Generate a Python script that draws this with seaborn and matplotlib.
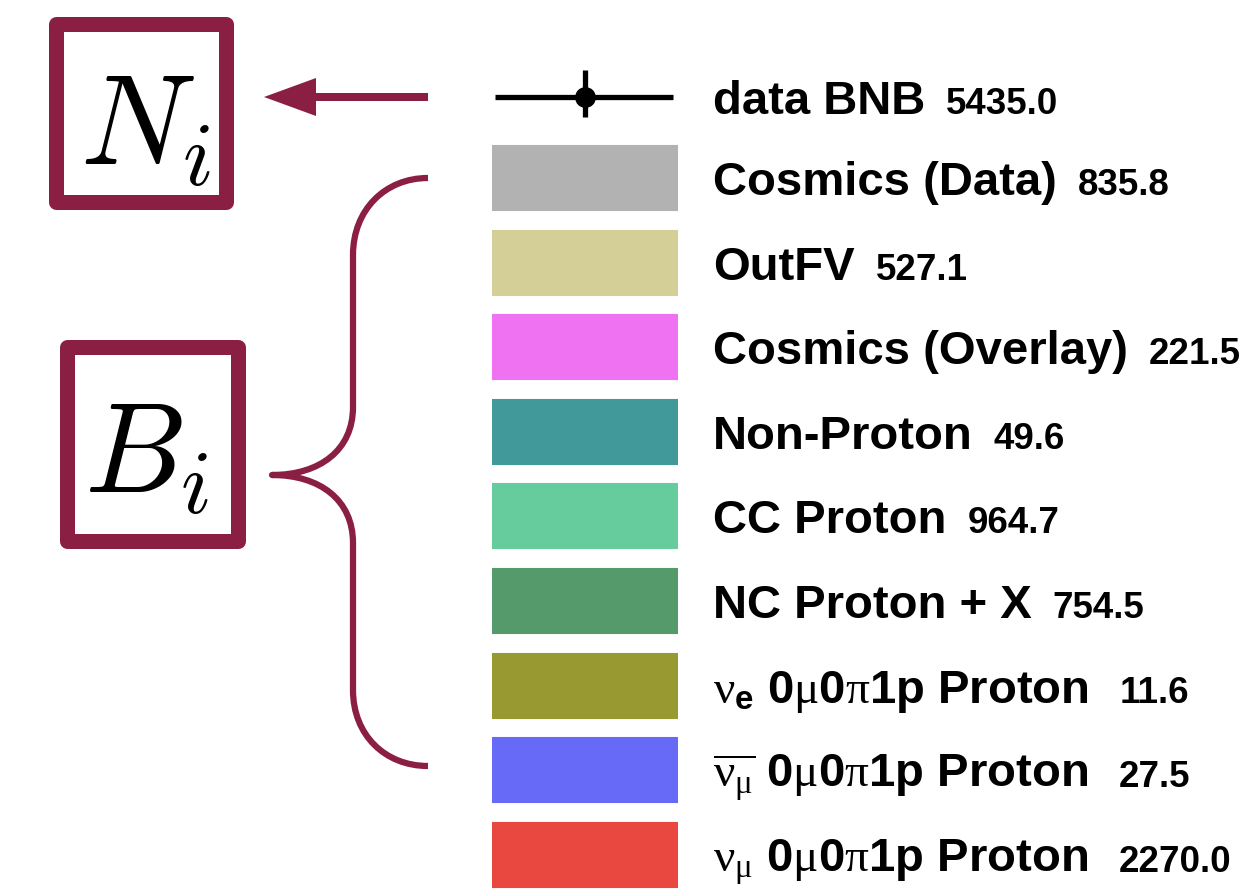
import matplotlib
matplotlib.use("Agg")
import matplotlib.pyplot as plt
from matplotlib.patches import FancyBboxPatch, FancyArrow, PathPatch
from matplotlib.path import Path
import seaborn as sns
import pandas as pd

# ---- data ----
data_label = "data BNB"
data_count = 5435.0
categories = [
    "Cosmics (Data)",
    "OutFV",
    "Cosmics (Overlay)",
    "Non-Proton",
    "CC Proton",
    "NC Proton + X",
    r"$\mathrm{\nu}_{\mathbf{e}}$ 0$\mathrm{\mu}$0$\mathrm{\pi}$1p Proton",
    r"$\overline{\mathrm{\nu}_{\mathrm{\mu}}}$ 0$\mathrm{\mu}$0$\mathrm{\pi}$1p Proton",
    r"$\mathrm{\nu}_{\mathrm{\mu}}$ 0$\mathrm{\mu}$0$\mathrm{\pi}$1p Proton",
]
counts = [835.8, 527.1, 221.5, 49.6, 964.7, 754.5, 11.6, 27.5, 2270.0]
colors = ["#b2b2b2", "#d4cf96", "#ee72f1", "#42999a", "#67cc9d",
          "#559a6b", "#999932", "#666af6", "#e8483f"]

# ---- style ----
sns.set_theme(style="white")
plt.rcParams["font.family"] = ["Liberation Sans", "DejaVu Sans"]
plt.rcParams["mathtext.fontset"] = "custom"
plt.rcParams["mathtext.rm"] = "Liberation Serif"
plt.rcParams["mathtext.it"] = "Liberation Serif:italic"
plt.rcParams["mathtext.bf"] = "Liberation Sans:bold"

MAROON = "#8B1E43"
W, H = 1242, 891
DATA_Y = 97.0
SW_Y0 = 178.0
STEP = 84.6
SW_X0, SW_X1 = 492, 678
LABEL_X = 713
LABEL_FS = 34
NUM_FS = 26.5
CAP = 0.716 * LABEL_FS * 100 / 72

fig = plt.figure(figsize=(W / 100, H / 100), dpi=100)
ax = fig.add_axes([0, 0, 1, 1])
ax.set_xlim(0, W)
ax.set_ylim(H, 0)
ax.axis("off")

# ---- swatches via seaborn barplot in an inset axes ----
n = len(categories)
keys = [f"c{i}" for i in range(n)]
df = pd.DataFrame({"key": keys, "one": [1.0] * n})
top_px = SW_Y0 - STEP / 2
bot_px = SW_Y0 + (n - 1) * STEP + STEP / 2
bax = fig.add_axes([SW_X0 / W, (H - bot_px) / H, (SW_X1 - SW_X0) / W, (bot_px - top_px) / H])
sns.barplot(data=df, x="one", y="key", hue="key", order=keys, hue_order=keys,
            palette=colors, saturation=1, width=64 / STEP, orient="h",
            legend=False, ax=bax, linewidth=0)
bax.set_xlim(0, 1)
bax.set_ylim(n - 0.5, -0.5)
bax.axis("off")
bax.patch.set_alpha(0)
for p in bax.patches:
    p.set_joinstyle("round")
    p.set_linewidth(1.5)
    p.set_edgecolor(p.get_facecolor())

# ---- data row (error bar marker) ----
ax.errorbar([585], [DATA_Y], xerr=[[90], [88]], yerr=[[27], [20]], fmt="o",
            color="black", ms=14, elinewidth=3.8, capsize=0)

# ---- labels ----
labels = [data_label] + categories
vals = [data_count] + counts
ys = [DATA_Y] + [SW_Y0 + i * STEP for i in range(n)]
texts = []
for lab, yc in zip(labels, ys):
    y = yc + CAP / 2
    t = ax.text(LABEL_X, y, lab, fontsize=LABEL_FS, fontweight="bold",
                ha="left", va="baseline", color="black", math_fontfamily="custom")
    texts.append((t, y, "$" in lab))
fig.canvas.draw()
r = fig.canvas.get_renderer()
inv = ax.transData.inverted()
for (t, y, is_math), v in zip(texts, vals):
    bb = t.get_window_extent(r)
    x1 = inv.transform((bb.x1, bb.y0))[0]
    gap = 31 if is_math else 21
    ax.text(x1 + gap, y, f"{v:.1f}", fontsize=NUM_FS, fontweight="bold",
            ha="left", va="baseline", color="black")

# ---- N_i and B_i boxes ----
lw_box = 15 * 72 / 100
for (x0, y0, x1, y1) in [(55.5, 24, 225.5, 202), (67, 346.5, 238, 541)]:
    ax.add_patch(FancyBboxPatch((x0, y0), x1 - x0, y1 - y0, boxstyle="square,pad=0",
                                fill=False, ec=MAROON, lw=lw_box, joinstyle="round"))
ax.text(146, 165, r"$N_i$", fontsize=92, ha="center", va="baseline",
        math_fontfamily="cm", color="black")
ax.text(147, 493, r"$B_i$", fontsize=92, ha="center", va="baseline",
        math_fontfamily="cm", color="black")

# ---- arrow ----
ax.add_patch(FancyArrow(428, DATA_Y, -164, 0, width=8, head_width=38, head_length=52,
                        length_includes_head=True, color=MAROON, lw=0))

# ---- brace ----
verts = [(428, 178), (385, 178), (353, 210), (353, 255),
         (353, 407),
         (353, 450), (320, 475), (272, 475),
         (320, 475), (353, 500), (353, 543),
         (353, 690),
         (353, 735), (385, 766), (428, 766)]
codes = [Path.MOVETO, Path.CURVE4, Path.CURVE4, Path.CURVE4,
         Path.LINETO,
         Path.CURVE4, Path.CURVE4, Path.CURVE4,
         Path.CURVE4, Path.CURVE4, Path.CURVE4,
         Path.LINETO,
         Path.CURVE4, Path.CURVE4, Path.CURVE4]
ax.add_patch(PathPatch(Path(verts, codes), fill=False, ec=MAROON, lw=4.5,
                       capstyle="butt", joinstyle="round"))

fig.savefig("out.png", dpi=100)
